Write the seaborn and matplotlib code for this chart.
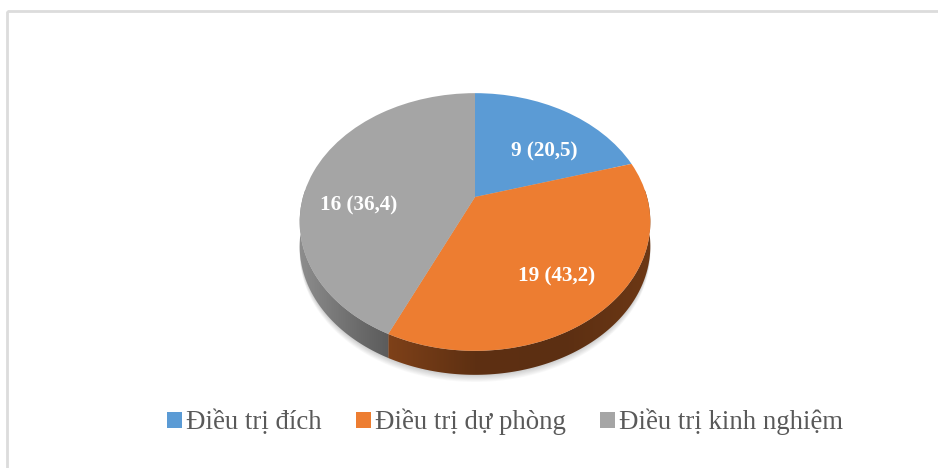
import numpy as np
import matplotlib
matplotlib.use('Agg')
import matplotlib.pyplot as plt
import matplotlib.transforms as mtransforms
from matplotlib.colors import LinearSegmentedColormap
from matplotlib.patches import Patch, Polygon, Rectangle
import seaborn as sns

categories = ['Điều trị đích', 'Điều trị dự phòng', 'Điều trị kinh nghiệm']
# the slices are drawn 9/16/19 in the picture, while the printed labels say 19 for orange
slice_values = [9, 16, 19]
slice_labels = ['9 (20,5)', '19 (43,2)', '16 (36,4)']
colors = ['#5B9BD5', '#ED7D31', '#A5A5A5']

sns.set_theme(style='white')
plt.rcParams['font.family'] = ['Liberation Serif', 'DejaVu Serif']

CX, CY, RX, RY, P = 475, 197, 172, 124, 0.194
DEPTH = 24


# perspective view of the pie's unit circle, in pixels
class Tilt(mtransforms.Transform):
    input_dims = 2
    output_dims = 2

    def transform_non_affine(self, values):
        values = np.asarray(values)
        w = 1 + P * values[:, 1]
        return np.column_stack([CX + RX * values[:, 0] / w, CY - RY * values[:, 1] / w])


tilt = Tilt()
fig, ax = plt.subplots(figsize=(9.38, 4.68), dpi=100)
ax.set_position([0, 0, 1, 1])

wedges, _ = ax.pie(slice_values, colors=sns.color_palette(colors), startangle=90,
                   counterclock=False, radius=1)
ax.set_aspect('auto')
for wedge in wedges:
    wedge.set_transform(tilt + ax.transData)
    wedge.set_edgecolor('none')
    wedge.set_zorder(5)

# soft shadow under the pie
circle = tilt.transform(np.column_stack([np.cos(np.linspace(0, 2 * np.pi, 240)),
                                         np.sin(np.linspace(0, 2 * np.pi, 240))]))
for off in range(9):
    ax.add_patch(Polygon(circle + [0, DEPTH + off * 0.9], closed=True, fc='black', ec='none',
                         alpha=0.022, zorder=1))

# side of the pie, shaded left to right
side_maps = [['#3c5f80', '#3c5f80'], ['#7f4119', '#5e3012', '#5c2f12', '#6d3815'],
             ['#8e8e8e', '#737373', '#5a5a5a']]
fractions = np.cumsum([0] + slice_values) / sum(slice_values)
for i in range(len(slice_values)):
    angle = np.pi / 2 - 2 * np.pi * np.linspace(fractions[i], fractions[i + 1], 120)
    arc = tilt.transform(np.column_stack([np.cos(angle), np.sin(angle)]))
    outline = np.vstack([arc, arc[::-1] + [0, DEPTH]])
    clip = Polygon(outline, closed=True, transform=ax.transData, fc='none', ec='none')
    ax.add_patch(clip)
    visible = arc[arc[:, 1] > 222]
    if len(visible) == 0:
        continue
    x0, x1 = visible[:, 0].min(), visible[:, 0].max()
    cmap = LinearSegmentedColormap.from_list('side', side_maps[i])
    im = ax.imshow(np.linspace(0, 1, 256)[None, :], cmap=cmap, aspect='auto',
                   extent=[x0 - 2, x1 + 2, 410, 190], zorder=3)
    im.set_clip_path(clip)

for wedge, label, pos in zip(wedges, slice_labels, [(544, 151), (557, 276.5), (358.5, 205.5)]):
    ax.text(pos[0], pos[1], label, color='white', fontsize=15.2, fontweight='bold',
            ha='center', va='center', zorder=6)

ax.add_patch(Rectangle((6.5, 11), 940, 470, fc='none', ec='#dcdcdc', lw=2, zorder=0))

handles = [Patch(fc=c, ec='none') for c in colors]
ax.legend(handles, categories, ncol=3, frameon=False, loc='center', fontsize=19.3,
          labelcolor='#595959', bbox_to_anchor=(505 / 938, 1 - 422 / 468),
          bbox_transform=ax.transAxes, handlelength=0.55, handleheight=0.55,
          handletextpad=0.15, columnspacing=1.3)

ax.set_xlim(0, 938)
ax.set_ylim(468, 0)
ax.axis('off')
fig.savefig('out.png', dpi=100, facecolor='white')
